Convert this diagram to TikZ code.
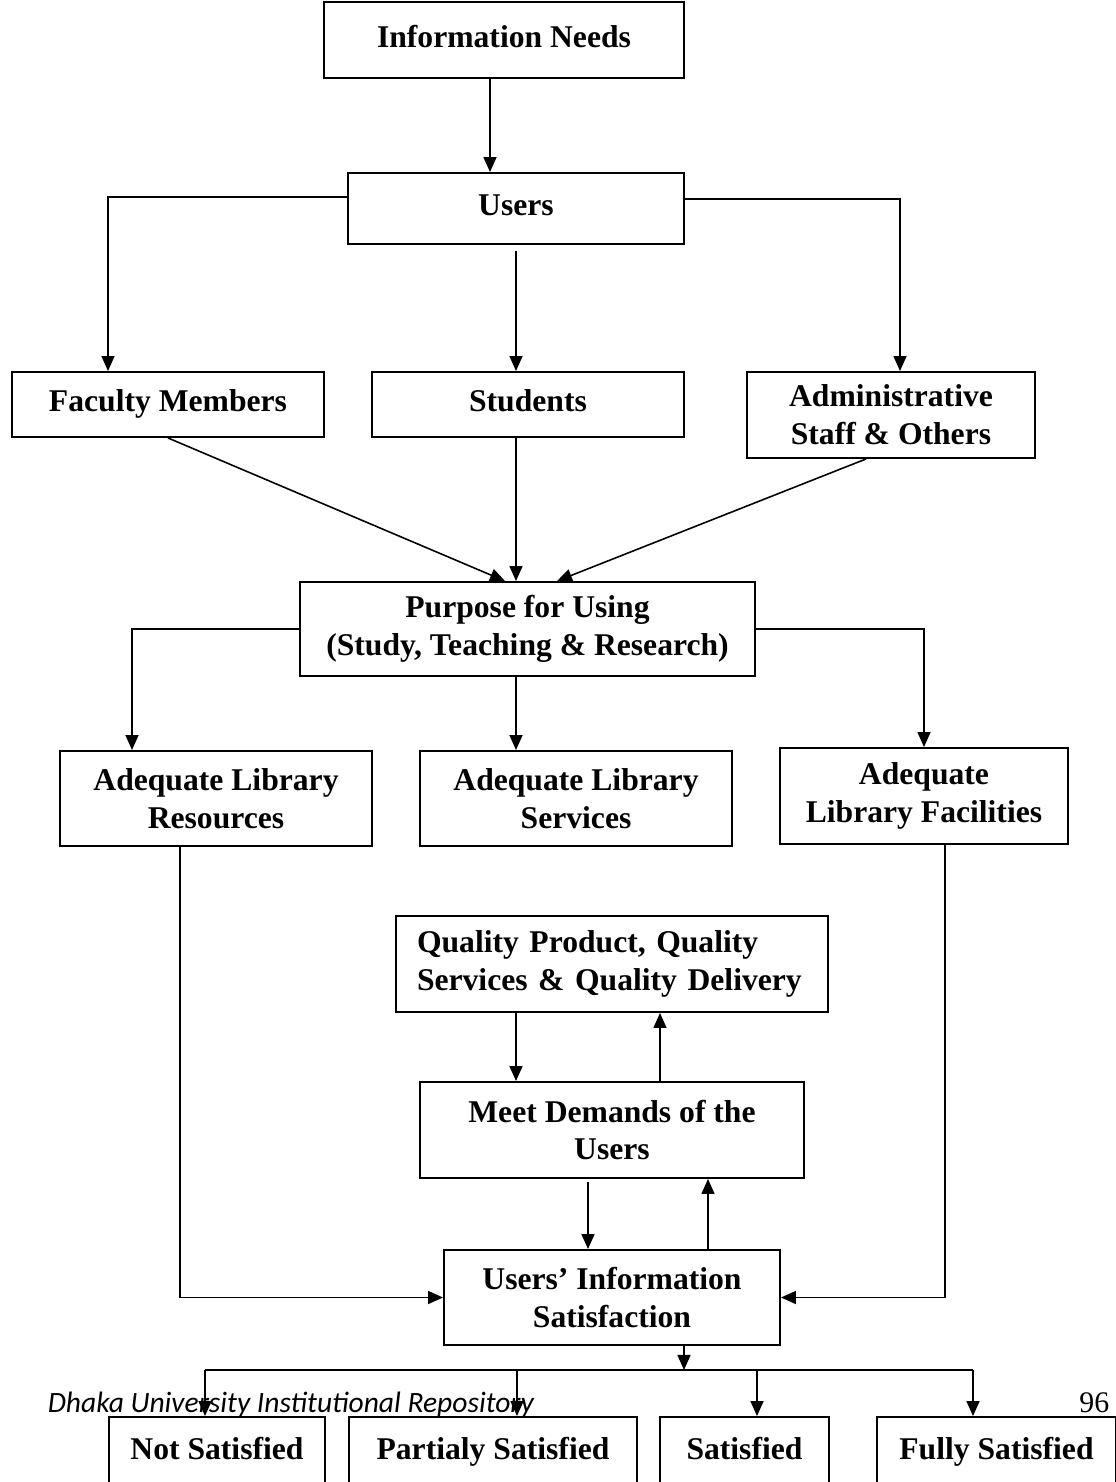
\documentclass[tikz,border=0pt]{standalone}
\usepackage{fontspec}
\setmainfont{Liberation Serif}
\newfontfamily\footfont{Carlito}
\usetikzlibrary{arrows.meta}

\begin{document}
\begin{tikzpicture}[>={Triangle[length=0.3cm,width=0.26cm]}, line width=0.9pt, font=\fontsize{18}{21.5}\selectfont\bfseries]
		\tikzstyle{block}=[draw,rectangle,align=center,inner sep=0pt,line width=1.1pt]
		\tikzstyle{oneline}=[text height=12.5pt,text depth=4pt]
		\useasboundingbox (0,0) rectangle (22.32,-29.64);
		\clip (0,0) rectangle (22.32,-29.64);
		
		\node[block,oneline,minimum width=7.2cm,minimum height=1.52cm](info) at (10.08 cm,-0.80 cm){Information Needs};
		
		\node[block,oneline,minimum width=6.72cm,minimum height=1.42cm](users) at (10.32 cm,-4.17 cm){Users};
		
		\node[block,oneline,minimum width=6.24cm,minimum height=1.30cm](fac) at (3.36 cm,-8.09 cm){Faculty Members};
		\node[block,oneline,minimum width=6.24cm,minimum height=1.30cm](stud) at (10.56 cm,-8.09 cm){Students};
		\node[block,minimum width=5.76cm,minimum height=1.72cm](admin) at (17.82 cm,-8.30 cm){Administrative\\Staff \& Others};
		
		\node[block,minimum width=9.10cm,minimum height=1.88cm](purp) at (10.55 cm,-12.58 cm){Purpose for Using\\(Study, Teaching \& Research)};
		
		\node[block,minimum width=6.24cm,minimum height=1.90cm](res) at (4.32 cm,-15.97 cm){Adequate Library\\Resources};
		\node[block,minimum width=6.24cm,minimum height=1.90cm](serv) at (11.52 cm,-15.97 cm){Adequate Library\\Services};
		\node[block,minimum width=5.76cm,minimum height=1.92cm](facil) at (18.48 cm,-15.92 cm){Adequate\\Library Facilities};
		
		\node[block,text width=7.8cm,align=left,inner xsep=0.42cm,minimum height=1.92cm](qual) at (12.24 cm,-19.28 cm){Quality Product, Quality\\Services \& Quality Delivery};
		\node[block,minimum width=7.68cm,minimum height=1.92cm](meet) at (12.24 cm,-22.60 cm){Meet Demands of the\\Users};
		\node[block,minimum width=6.72cm,minimum height=1.90cm](sat) at (12.24 cm,-25.95 cm){Users’ Information\\Satisfaction};
		
		\node[block,oneline,minimum width=4.32cm,minimum height=1.40cm](notsat) at (4.34 cm,-29.04 cm){Not Satisfied};
		\node[block,oneline,minimum width=5.76cm,minimum height=1.40cm](partsat) at (9.86 cm,-29.04 cm){Partialy Satisfied};
		\node[block,oneline,minimum width=3.38cm,minimum height=1.40cm](satis) at (14.89 cm,-29.04 cm){Satisfied};
		\node[block,oneline,minimum width=4.78cm,minimum height=1.40cm](fullsat) at (19.93 cm,-29.04 cm){Fully Satisfied};
		
		\coordinate(split) at ([xshift=1.44cm,yshift=-0.48cm]sat.south);
		
		% top part
		\draw[->] ([xshift=-0.28cm]info.south) -- ([xshift=-0.28cm]info.south |- users.north);
		\draw[->] ([yshift=0.23cm]users.west) -| ([xshift=-1.2cm]fac.north);
		\draw[->] ([yshift=0.19cm]users.east) -| ([xshift=0.18cm]admin.north);
		\draw[->] ([yshift=-0.12cm]users.south) -- (users.south |- stud.north);
		
		\path[->] (fac.south) edge ([xshift=-0.45cm]purp.north)
		([xshift=-0.24cm]stud.south) edge ([xshift=-0.24cm]stud.south |- purp.north)
		([xshift=-0.5cm]admin.south) edge ([xshift=0.59cm]purp.north);
		
		\draw[->] (purp.west) -| ([xshift=-1.68cm]res.north);
		\draw[->] (purp.east) -| (facil.north);
		\draw[->] ([xshift=-0.23cm]purp.south) -- ([xshift=-0.23cm]purp.south |- serv.north);
		
		% to satisfaction
		\draw[->] ([xshift=-0.72cm]res.south) |- (sat.west);
		\draw[->] ([xshift=0.42cm]facil.south) |- (sat.east);
		
		\draw[->] ([xshift=-1.92cm]qual.south) -- ([xshift=-1.92cm]meet.north);
		\draw[->] ([xshift=0.96cm]meet.north) -- ([xshift=0.96cm]qual.south);
		\draw[->] ([xshift=-0.48cm,yshift=-0.06cm]meet.south) -- ([xshift=-0.48cm]sat.north);
		\draw[->] ([xshift=1.92cm]sat.north) -- ([xshift=1.92cm]meet.south);
		
		% results
		\draw[->] (split |- sat.south) -- (split);
		\draw ([xshift=-0.24cm]notsat.north |- split) -- ([xshift=-0.47cm]fullsat.north |- split);
		\foreach \n/\s in {notsat/-0.24,partsat/0.48,satis/0.25,fullsat/-0.47}
		\draw[->] ([xshift=\s cm]\n.north |- split) -- ([xshift=\s cm]\n.north);
		
		% page footer
		\node[anchor=base west,inner sep=0pt,font=\fontsize{16.8}{20}\selectfont\footfont\itshape](repo) at (0.94 cm,-28.24 cm){Dhaka University Institutional Repository};
		\node[anchor=base east,inner sep=0pt,font=\fontsize{17}{20}\selectfont](page) at (22.2 cm,-28.24 cm){96};
\end{tikzpicture}
\end{document}
